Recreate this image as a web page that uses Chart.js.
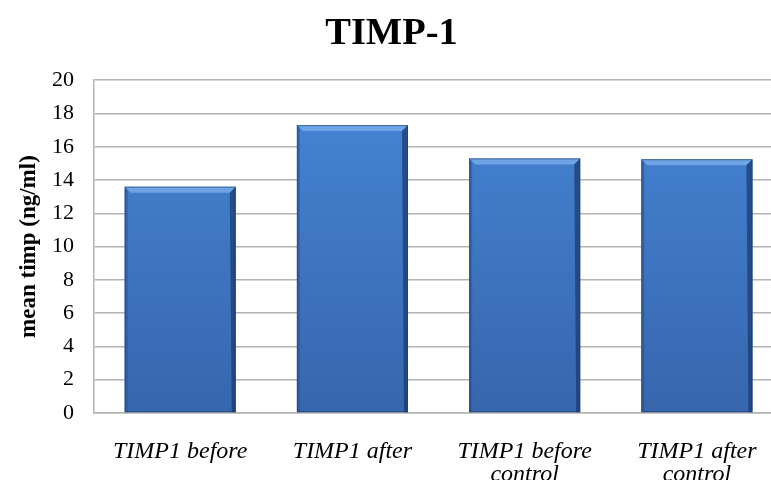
<!DOCTYPE html>
<html>
<head>
<meta charset="utf-8">
<script src="https://cdn.jsdelivr.net/npm/chart.js@4"></script>
<style>
  html, body { margin: 0; padding: 0; background: #fff; overflow: hidden; }
  /* the reference plot runs past the right edge, so the canvas is a bit wider than the window */
  #wrap { width: 790px; height: 480px; }
</style>
</head>
<body>
<div id="wrap"><canvas id="timpChart" width="790" height="480"></canvas></div>
<script>
// values
const categories = [
  ['TIMP1 before'],
  ['TIMP1 after'],
  ['TIMP1 before', 'control'],
  ['TIMP1 after', 'control']
];
const meanTimp = [13.6, 17.3, 15.3, 15.25];
const yTicks = [0, 2, 4, 6, 8, 10, 12, 14, 16, 18, 20];

// office-style bevel on each bar
const bevel = {
  id: 'bevel',
  afterDatasetsDraw(chart) {
    const ctx = chart.ctx;
    chart.getDatasetMeta(0).data.forEach(bar => {
      const l = bar.x - bar.width / 2, r = bar.x + bar.width / 2;
      const t = bar.y, b = bar.base, s = 6;
      ctx.save();
      // top highlight
      ctx.fillStyle = 'rgba(130,180,240,0.7)';
      ctx.beginPath();
      ctx.moveTo(l, t); ctx.lineTo(r, t); ctx.lineTo(r - s, t + s); ctx.lineTo(l + s, t + s);
      ctx.closePath(); ctx.fill();
      // left edge
      ctx.fillStyle = 'rgba(40,80,145,0.5)';
      ctx.beginPath();
      ctx.moveTo(l, t); ctx.lineTo(l + 3, t + 3); ctx.lineTo(l + 3, b); ctx.lineTo(l, b);
      ctx.closePath(); ctx.fill();
      // right edge
      ctx.fillStyle = 'rgba(25,55,110,0.7)';
      ctx.beginPath();
      ctx.moveTo(r, t); ctx.lineTo(r - s, t + s); ctx.lineTo(r - 4, b); ctx.lineTo(r, b);
      ctx.closePath(); ctx.fill();
      ctx.strokeStyle = 'rgba(30,60,110,0.6)';
      ctx.lineWidth = 1;
      ctx.strokeRect(l + 0.5, t + 0.5, bar.width - 1, b - t - 1);
      ctx.restore();
    });
  }
};

const ctx = document.getElementById('timpChart').getContext('2d');
new Chart(ctx, {
  type: 'bar',
  data: {
    labels: categories,
    datasets: [{
      label: 'mean timp',
      data: meanTimp,
      backgroundColor: c => {
        const area = c.chart.chartArea;
        if (!area) return '#3f7cc8';
        const g = c.chart.ctx.createLinearGradient(0, area.top, 0, area.bottom);
        g.addColorStop(0, '#4686d6');
        g.addColorStop(1, '#3766ad');
        return g;
      },
      borderWidth: 0,
      categoryPercentage: 1,
      barPercentage: 0.645
    }]
  },
  options: {
    responsive: false,
    animation: false,
    // second label line is cut off at the bottom in the reference
    layout: { padding: { left: 0, right: 7, top: 0, bottom: -34 } },
    plugins: {
      legend: { display: false },
      tooltip: { enabled: false },
      title: {
        display: true,
        text: 'TIMP-1',
        color: '#000',
        font: { family: 'Liberation Serif', size: 38.5, weight: 'bold' },
        padding: { top: 11, bottom: 23 }
      }
    },
    scales: {
      y: {
        min: 0,
        max: 20,
        afterBuildTicks: axis => { axis.ticks = yTicks.map(v => ({ value: v })); },
        grid: { color: '#b4b4b4', lineWidth: 1.5, drawTicks: false },
        border: { color: '#b4b4b4', width: 1.5 },
        ticks: {
          color: '#000',
          padding: 20,
          font: { family: 'Liberation Serif', size: 22 }
        },
        title: {
          display: true,
          text: 'mean timp (ng/ml)',
          color: '#000',
          font: { family: 'Liberation Serif', size: 23, weight: 'bold' },
          padding: { top: 15, bottom: -10.5 }
        }
      },
      x: {
        grid: { display: false, drawTicks: false },
        border: { color: '#b4b4b4', width: 1.5 },
        ticks: {
          color: '#000',
          padding: 27.5,
          maxRotation: 0,
          font: { family: 'Liberation Serif', size: 24, style: 'italic', lineHeight: 0.96 }
        }
      }
    }
  },
  plugins: [bevel]
});
</script>
</body>
</html>
